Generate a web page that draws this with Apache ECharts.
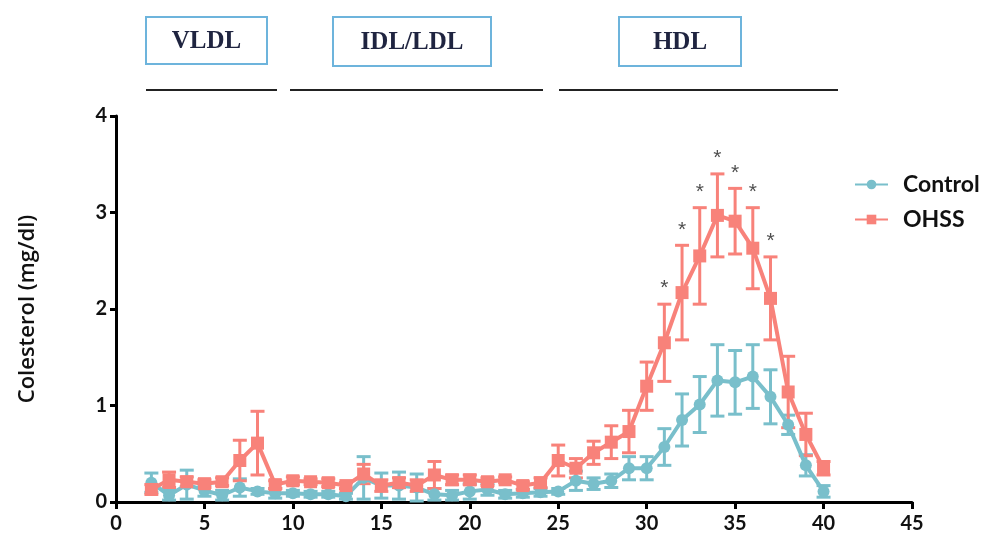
<!DOCTYPE html>
<html>
<head>
<meta charset="utf-8">
<script src="https://cdn.jsdelivr.net/npm/echarts@6/dist/echarts.min.js"></script>
<style>html,body{margin:0;padding:0;background:#fff}#c{width:987px;height:540px}</style>
</head>
<body>
<div id="c"></div>
<script>
const fractions = [2,3,4,5,6,7,8,9,10,11,12,13,14,15,16,17,18,19,20,21,22,23,24,25,26,27,28,29,30,31,32,33,34,35,36,37,38,39,40];
const controlMean = [0.2,0.07,0.18,0.12,0.07,0.15,0.11,0.09,0.09,0.08,0.08,0.06,0.25,0.17,0.17,0.15,0.08,0.07,0.11,0.13,0.08,0.09,0.1,0.11,0.22,0.19,0.22,0.35,0.35,0.57,0.85,1.01,1.26,1.24,1.30,1.09,0.80,0.38,0.11];
const controlErr = [0.1,0.05,0.15,0.06,0.05,0.09,0.03,0.05,0.03,0.03,0.03,0.03,0.22,0.13,0.14,0.14,0.06,0.05,0.08,0.06,0.04,0.04,0.04,0.03,0.1,0.06,0.07,0.12,0.12,0.19,0.27,0.29,0.37,0.33,0.33,0.28,0.1,0.11,0.06];
const ohssMean = [0.13,0.23,0.21,0.19,0.21,0.43,0.61,0.18,0.22,0.21,0.2,0.17,0.29,0.17,0.2,0.17,0.28,0.23,0.23,0.21,0.23,0.17,0.2,0.43,0.35,0.51,0.62,0.73,1.2,1.65,2.17,2.55,2.97,2.91,2.63,2.11,1.14,0.70,0.35];
const ohssErr = [0.05,0.08,0.05,0.04,0.04,0.21,0.33,0.04,0.04,0.03,0.04,0.03,0.1,0.06,0.05,0.06,0.14,0.05,0.05,0.04,0.03,0.04,0.05,0.16,0.1,0.12,0.17,0.22,0.25,0.4,0.49,0.5,0.43,0.34,0.42,0.43,0.37,0.22,0.07];
const starFractions = [31,32,33,34,35,36,37];
const xTicks = [0,5,10,15,20,25,30,35,40,45];
const yTicks = [0,1,2,3,4];
const seriesNames = ['Control','OHSS'];
const regionLabels = ['VLDL','IDL/LDL','HDL'];

const cCtrl = '#79bfcb';
const cOhss = '#f8827a';

const chart = echarts.init(document.getElementById('c'));

function errData(mean, err){ return fractions.map((x,i)=>[x, mean[i]-err[i], mean[i]+err[i]]); }
function errSeries(name, mean, err, color){
  return {
    type:'custom', name:name, data: errData(mean, err), z:2, silent:true,
    renderItem:function(params, api){
      const x = api.value(0);
      const lo = api.coord([x, api.value(1)]);
      const hi = api.coord([x, api.value(2)]);
      const w = 7;
      const st = {stroke:color, lineWidth:3};
      return {type:'group', children:[
        {type:'line', shape:{x1:lo[0],y1:lo[1],x2:hi[0],y2:hi[1]}, style:st},
        {type:'line', shape:{x1:hi[0]-w,y1:hi[1],x2:hi[0]+w,y2:hi[1]}, style:st},
        {type:'line', shape:{x1:lo[0]-w,y1:lo[1],x2:lo[0]+w,y2:lo[1]}, style:st}
      ]};
    },
    encode:{x:0, y:[1,2]}
  };
}

const starData = starFractions.map(x=>{ const i = fractions.indexOf(x); return [x, ohssMean[i]+ohssErr[i]]; });

// region boxes (annotation)
const boxes = [
  {l:146, r:267, t:17, b:64, text:regionLabels[0]},
  {l:333, r:491, t:17, b:66, text:regionLabels[1]},
  {l:619, r:741, t:17, b:66, text:regionLabels[2]}
];
const lines = [[146,277],[290,543],[559,838]];
const graphic = [];
boxes.forEach(b=>{
  graphic.push({type:'rect', shape:{x:b.l,y:b.t,width:b.r-b.l,height:b.b-b.t}, style:{fill:'#fff', stroke:'#6db4dc', lineWidth:2}});
  graphic.push({type:'text', x:(b.l+b.r)/2, y:(b.t+b.b)/2+1, style:{text:b.text, font:'bold 25px "Liberation Serif", serif', fill:'#1f2440', align:'center', verticalAlign:'middle'}});
});
lines.forEach(l=>{
  graphic.push({type:'line', shape:{x1:l[0],y1:90,x2:l[1],y2:90}, style:{stroke:'#222', lineWidth:2}});
});

chart.setOption({
  animation:false,
  backgroundColor:'#fff',
  graphic: graphic,
  grid:{left:116, right:75, top:116, bottom:38, containLabel:false},
  legend:{
    orient:'vertical', left:849, top:168, itemWidth:33, itemHeight:12, itemGap:12,
    data: seriesNames,
    textStyle:{fontFamily:'Lato', fontWeight:'bold', fontSize:23, color:'#111', padding:[0,0,0,10]}
  },
  xAxis:{
    type:'value', min:xTicks[0], max:xTicks[xTicks.length-1], interval:5,
    axisLine:{lineStyle:{color:'#000', width:3}},
    axisTick:{show:true, length:7, lineStyle:{width:3, color:'#000'}},
    axisLabel:{fontFamily:'Lato', fontWeight:'bold', fontSize:20, color:'#111', margin:12},
    splitLine:{show:false}
  },
  yAxis:{
    type:'value', min:yTicks[0], max:yTicks[yTicks.length-1], interval:1,
    name:'Colesterol (mg/dl)', nameLocation:'middle', nameGap:77,
    nameTextStyle:{fontFamily:'Open Sans', fontWeight:600, fontSize:22, color:'#111'},
    axisLine:{lineStyle:{color:'#000', width:3}},
    axisTick:{show:true, length:6, lineStyle:{width:3, color:'#000'}},
    axisLabel:{fontFamily:'Lato', fontWeight:'bold', fontSize:20, color:'#111', margin:9},
    splitLine:{show:false}
  },
  series:[
    {
      name:seriesNames[0], type:'line', data: fractions.map((x,i)=>[x, controlMean[i]]),
      symbol:'circle', symbolSize:12, itemStyle:{color:cCtrl}, lineStyle:{color:cCtrl, width:4}, z:3
    },
    errSeries('ctrlErr', controlMean, controlErr, cCtrl),
    errSeries('ohssErr', ohssMean, ohssErr, cOhss),
    {
      name:seriesNames[1], type:'line', data: fractions.map((x,i)=>[x, ohssMean[i]]),
      symbol:'rect', symbolSize:13, itemStyle:{color:cOhss}, lineStyle:{color:cOhss, width:4}, z:5
    },
    {
      name:'stars', type:'scatter', data: starData, symbolSize:0, silent:true, z:6,
      label:{show:true, formatter:'*', position:'top', distance:5, fontFamily:'Liberation Sans', fontSize:21, color:'#222'}
    }
  ]
});
</script>
</body>
</html>
